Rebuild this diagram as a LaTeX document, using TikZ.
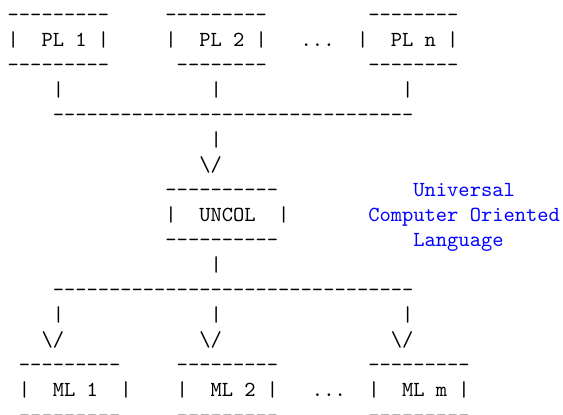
\documentclass[tikz,border=0pt]{standalone}
\usepackage{xcolor}
\definecolor{noteblue}{RGB}{0,0,255}

% a run of n hyphens, kept apart so that no dash ligature forms
\ExplSyntaxOn
\cs_new:Npn \hyrun #1 { \prg_replicate:nn {#1} { -{} } }
\ExplSyntaxOff

% text placed on a character grid: column, line
\newcommand\gridtext[5][ascii]{%
  \node[#1] (#2) at ({7.7+#3*11.27},{21.2+(#4-1)*25.05}) {#5};}

\begin{document}
\begin{tikzpicture}[
    x=0.46584pt, y=-0.46584pt,
    ascii/.style={inner sep=0pt, outer sep=0pt, anchor=base west,
                  font=\fontsize{10}{12}\selectfont\ttfamily},
    note/.style={ascii, text=noteblue}]
  \useasboundingbox (0,0) rectangle (563,414);

  % source language boxes
  \gridtext{platop}{0}{1}{\hyrun{9}}
  \gridtext{plbtop}{14}{1}{\hyrun{9}}
  \gridtext{plntop}{32}{1}{\hyrun{8}}
  \gridtext{pla}{0}{2}{|~~PL~1~|}
  \gridtext{plb}{14}{2}{|~~PL~2~|}
  \gridtext{pldots}{26}{2}{...}
  \gridtext{pln}{31}{2}{|~~PL~n~|}
  \gridtext{plabot}{0}{3}{\hyrun{9}}
  \gridtext{plbbot}{15}{3}{\hyrun{8}}
  \gridtext{plnbot}{32}{3}{\hyrun{8}}

  % join into UNCOL
  \gridtext{plastem}{4}{4}{|}
  \gridtext{plbstem}{18}{4}{|}
  \gridtext{plnstem}{35}{4}{|}
  \gridtext{inbus}{4}{5}{\hyrun{32}}
  \gridtext{instem}{18}{6}{|}
  \gridtext{inhead}{17}{7}{\textbackslash/}

  % UNCOL box and its note
  \gridtext{uncoltop}{14}{8}{\hyrun{10}}
  \gridtext{uncol}{14}{9}{|~~UNCOL~~|}
  \gridtext{uncolbot}{14}{10}{\hyrun{10}}
  \gridtext[note]{notea}{36}{8}{Universal}
  \gridtext[note]{noteb}{32}{9}{Computer~Oriented}
  \gridtext[note]{notec}{36}{10}{Language}

  % fan out to machine languages
  \gridtext{outstem}{18}{11}{|}
  \gridtext{outbus}{4}{12}{\hyrun{32}}
  \gridtext{mlastem}{4}{13}{|}
  \gridtext{mlbstem}{18}{13}{|}
  \gridtext{mlmstem}{35}{13}{|}
  \gridtext{mlahead}{3}{14}{\textbackslash/}
  \gridtext{mlbhead}{17}{14}{\textbackslash/}
  \gridtext{mlmhead}{34}{14}{\textbackslash/}

  % target machine boxes
  \gridtext{mlatop}{1}{15}{\hyrun{9}}
  \gridtext{mlbtop}{15}{15}{\hyrun{9}}
  \gridtext{mlmtop}{32}{15}{\hyrun{9}}
  \gridtext{mla}{1}{16}{|~~ML~1~~|}
  \gridtext{mlb}{15}{16}{|~~ML~2~|}
  \gridtext{mldots}{27}{16}{...}
  \gridtext{mlm}{32}{16}{|~~ML~m~|}
  \gridtext{mlabot}{1}{17}{\hyrun{9}}
  \gridtext{mlbbot}{15}{17}{\hyrun{9}}
  \gridtext{mlmbot}{32}{17}{\hyrun{9}}
\end{tikzpicture}
\end{document}
